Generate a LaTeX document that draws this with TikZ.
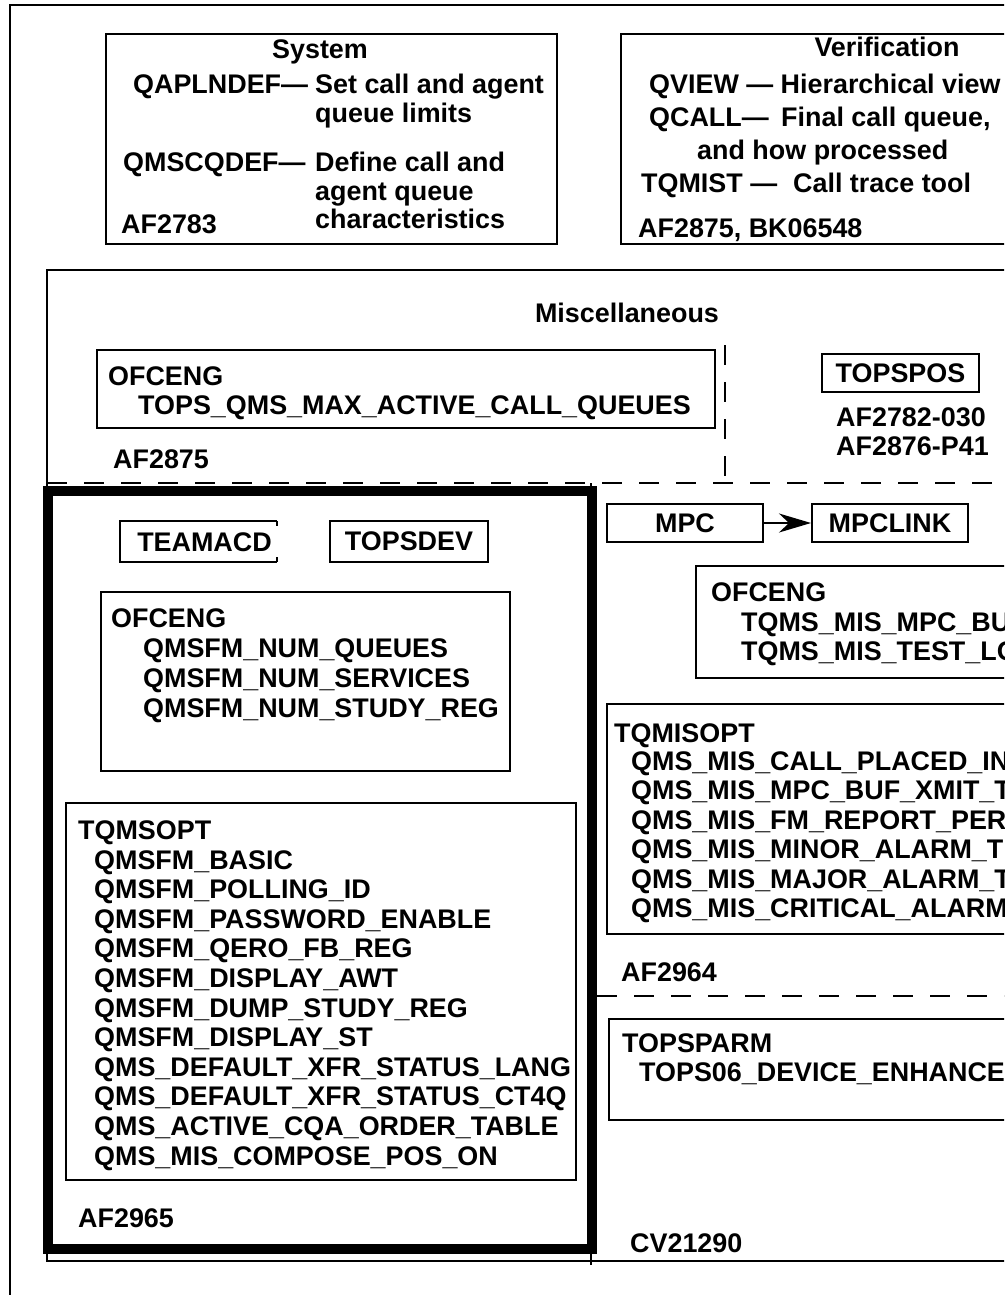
\documentclass[tikz,border=0pt]{standalone}
\usepackage{fontspec}
\setmainfont{Liberation Sans}
\usetikzlibrary{arrows.meta}
\newcommand\diagfont{\fontsize{26.9}{30}\selectfont\bfseries}
\begin{document}
\begin{tikzpicture}[x=1pt,y=-1pt,
  lbl/.style={anchor=base west, inner sep=0pt, font=\diagfont},
  ctr/.style={anchor=base, inner sep=0pt, font=\diagfont},
  thin/.style={line width=2pt},
  frame/.style={line width=1.5pt},
  dline/.style={line width=2pt, dash pattern=on 20pt off 17pt},
  tbox/.style={draw, line width=2pt, inner sep=0pt, font=\diagfont}]
\useasboundingbox (0,0) rectangle (1004,1295);
\clip (0,0) rectangle (1004,1295);
\fill[white] (0,0) rectangle (1004,1295);
% outer frame
\draw[frame] (10,5) rectangle (1020,1310);
% System
\draw[thin] (106,34) rectangle (557,244);
\node[ctr] (sys) at (320,59) {System};
\node[lbl] (qapl) at (133,94) {QAPLNDEF—};
\node[lbl] (qapl1) at (315,94) {Set call and agent};
\node[lbl] (qapl2) at (315,123) {queue limits};
\node[lbl] (qmsc) at (123,171) {QMSCQDEF—};
\node[lbl] (qmsc1) at (315,171) {Define call and};
\node[lbl] (qmsc2) at (315,200) {agent queue};
\node[lbl] (qmsc3) at (315,228) {characteristics};
\node[lbl] (af2783) at (121,233) {AF2783};
% Verification
\draw[thin] (621,34) rectangle (1020,244);
\node[ctr] (ver) at (887,57) {Verification};
\node[lbl] (qview) at (649,94) {QVIEW — Hierarchical view};
\node[lbl] (qcall) at (649,127) {QCALL—};
\node[lbl] (qcall1) at (781,127) {Final call queue,};
\node[lbl] (qcall2) at (697,159) {and how processed};
\node[lbl] (tqmist) at (641,192) {TQMIST —};
\node[lbl] (tqmist1) at (793,192) {Call trace tool};
\node[lbl] (afbk) at (638,237) {AF2875, BK06548};
% Miscellaneous outer box
\draw[thin] (47,270) rectangle (1020,1261);
\node[ctr] (misc) at (627,322) {Miscellaneous};
\draw[thin] (97,350) rectangle (715,428);
\node[lbl] (ofc1) at (108,385) {OFCENG};
\node[lbl] (ofc1a) at (138,414) {TOPS\_QMS\_MAX\_ACTIVE\_CALL\_QUEUES};
\node[lbl] (af2875) at (113,468) {AF2875};
\draw[dline] (725,345) -- (725,483);
\draw[dline] (47,483) -- (1004,483);
\node[tbox, minimum width=157pt, minimum height=38pt] (topspos) at (900.5,373) {TOPSPOS};
\node[lbl] (af2782) at (836,426) {AF2782-030};
\node[lbl] (af2876) at (836,455) {AF2876-P41};
% column divider
\draw[frame] (591,483) -- (591,1265);
% left column: thick box
\draw[line width=10pt] (48,491) rectangle (592,1249);
\draw[thin] (277,521) -- (120,521) -- (120,562) -- (277,562);
\draw[thin] (277,521) -- (277,526);
\draw[thin] (277,562) -- (277,557);
\node[ctr] (teamacd) at (204.5,551) {TEAMACD};
\node[tbox, minimum width=158pt, minimum height=41pt] (topsdev) at (409,541.5) {TOPSDEV};
\draw[thin] (101,592) rectangle (510,771);
\node[lbl] (ofc2) at (111,627) {OFCENG};
\node[lbl] (ofc2a) at (143,657) {QMSFM\_NUM\_QUEUES};
\node[lbl] (ofc2b) at (143,687) {QMSFM\_NUM\_SERVICES};
\node[lbl] (ofc2c) at (143,717) {QMSFM\_NUM\_STUDY\_REG};
\draw[thin] (66,803) rectangle (576,1180);
\node[lbl] (tqmsopt) at (78,839) {TQMSOPT};
\node[lbl] (t1) at (94,869) {QMSFM\_BASIC};
\node[lbl] (t2) at (94,898.6) {QMSFM\_POLLING\_ID};
\node[lbl] (t3) at (94,928.2) {QMSFM\_PASSWORD\_ENABLE};
\node[lbl] (t4) at (94,957.8) {QMSFM\_QERO\_FB\_REG};
\node[lbl] (t5) at (94,987.4) {QMSFM\_DISPLAY\_AWT};
\node[lbl] (t6) at (94,1017) {QMSFM\_DUMP\_STUDY\_REG};
\node[lbl] (t7) at (94,1046.6) {QMSFM\_DISPLAY\_ST};
\node[lbl] (t8) at (94,1076.2) {QMS\_DEFAULT\_XFR\_STATUS\_LANG};
\node[lbl] (t9) at (94,1105.8) {QMS\_DEFAULT\_XFR\_STATUS\_CT4Q};
\node[lbl] (t10) at (94,1135.4) {QMS\_ACTIVE\_CQA\_ORDER\_TABLE};
\node[lbl] (t11) at (94,1165) {QMS\_MIS\_COMPOSE\_POS\_ON};
\node[lbl] (af2965) at (78,1227) {AF2965};
% right column
\node[tbox, minimum width=156pt, minimum height=38pt] (mpc) at (685,523) {MPC};
\node[tbox, minimum width=156pt, minimum height=38pt] (mpclink) at (890,523) {MPCLINK};
\draw[thin, -{Stealth[length=32pt,width=19pt,inset=10pt]}] (mpc) -- (mpclink);
\draw[thin] (696,566) rectangle (1020,678);
\node[lbl] (ofc3) at (711,601) {OFCENG};
\node[lbl] (ofc3a) at (741,631) {TQMS\_MIS\_MPC\_BUFS};
\node[lbl] (ofc3b) at (741,660) {TQMS\_MIS\_TEST\_LOG};
\draw[thin] (607,704) rectangle (1020,934);
\node[lbl] (tqmisopt) at (614,742) {TQMISOPT};
\node[lbl] (m1) at (631,770) {QMS\_MIS\_CALL\_PLACED\_INTVL};
\node[lbl] (m2) at (631,799.5) {QMS\_MIS\_MPC\_BUF\_XMIT\_TIME};
\node[lbl] (m3) at (631,829) {QMS\_MIS\_FM\_REPORT\_PERIOD};
\node[lbl] (m4) at (631,858.5) {QMS\_MIS\_MINOR\_ALARM\_THRESHOLD};
\node[lbl] (m5) at (631,888) {QMS\_MIS\_MAJOR\_ALARM\_THRESHOLD};
\node[lbl] (m6) at (631,917.5) {QMS\_MIS\_CRITICAL\_ALARM\_THRESHOLD};
\node[lbl] (af2964) at (621,981) {AF2964};
\draw[dline] (597,996) -- (1004,996);
\draw[thin] (609,1019) rectangle (1020,1120);
\node[lbl] (topsparm) at (622,1052) {TOPSPARM};
\node[lbl] (tops06) at (639,1081) {TOPS06\_DEVICE\_ENHANCEMENTS};
\node[lbl] (cv) at (630,1252) {CV21290};
\end{tikzpicture}
\end{document}
